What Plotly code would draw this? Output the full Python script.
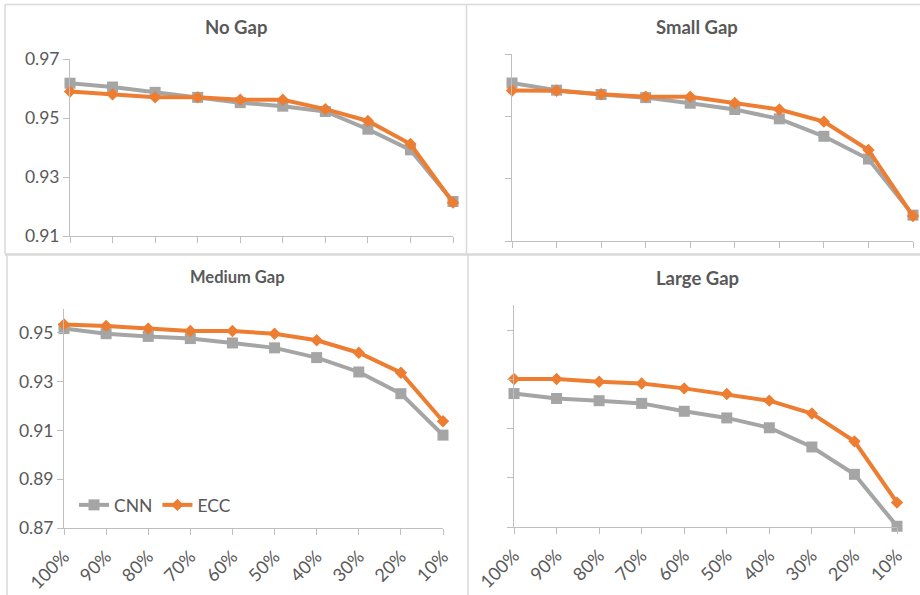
import plotly.graph_objects as go

W, H = 920, 595

categories = ["100%", "90%", "80%", "70%", "60%", "50%", "40%", "30%", "20%", "10%"]
panel_titles = ["No Gap", "Small Gap", "Medium Gap", "Large Gap"]

no_gap_cnn = [0.9618, 0.9605, 0.9587, 0.9570, 0.9552, 0.9540, 0.9522, 0.9462, 0.9392, 0.9217]
no_gap_ecc = [0.9590, 0.9580, 0.9570, 0.9570, 0.9562, 0.9562, 0.9530, 0.9490, 0.9412, 0.9213]

small_gap_cnn = [0.9607, 0.9584, 0.9570, 0.9560, 0.9542, 0.9522, 0.9492, 0.9436, 0.9363, 0.9183]
small_gap_ecc = [0.9583, 0.9582, 0.9571, 0.9563, 0.9563, 0.9543, 0.9522, 0.9483, 0.9392, 0.9180]

medium_gap_cnn = [0.9518, 0.9497, 0.9486, 0.9477, 0.9459, 0.9439, 0.9399, 0.9340, 0.9251, 0.9081]
medium_gap_ecc = [0.9535, 0.9529, 0.9518, 0.9508, 0.9508, 0.9497, 0.9470, 0.9419, 0.9337, 0.9138]

large_gap_cnn = [0.9242, 0.9222, 0.9213, 0.9202, 0.9170, 0.9143, 0.9103, 0.9025, 0.8914, 0.8703]
large_gap_ecc = [0.9301, 0.9301, 0.9290, 0.9283, 0.9263, 0.9240, 0.9213, 0.9161, 0.9048, 0.8799]

top_yticks = [0.91, 0.93, 0.95, 0.97]
bottom_yticks = [0.87, 0.89, 0.91, 0.93, 0.95]

series = [
    (no_gap_cnn, no_gap_ecc),
    (small_gap_cnn, small_gap_ecc),
    (medium_gap_cnn, medium_gap_ecc),
    (large_gap_cnn, large_gap_ecc),
]

GRAY = "#A5A5A5"
ORANGE = "#ED7D31"
TXT = "#595959"
AX = "#BFBFBF"
BORDER = "#D9D9D9"
FONT = "Lato"

panels = [
    dict(px=(70, 453, 59, 236), yr=[0.91, 0.97], yt=top_yticks, ylab=True, xlab=False,
         title_xy=(235.5, 27), tsize=18.5),
    dict(px=(512, 913, 54, 241), yr=[0.91, 0.97], yt=top_yticks, ylab=False, xlab=False,
         title_xy=(697, 27), tsize=18.5),
    dict(px=(64, 443, 308.6, 528), yr=[0.87, 0.96], yt=bottom_yticks, ylab=True, xlab=True,
         title_xy=(237, 277), tsize=16.5),
    dict(px=(514, 897, 305.4, 527), yr=[0.87, 0.96], yt=bottom_yticks, ylab=False, xlab=True,
         title_xy=(697, 278), tsize=18.5),
]

fig = go.Figure()
layout = {}
annotations = []
for i, (p, (cnn, ecc)) in enumerate(zip(panels, series)):
    n = "" if i == 0 else str(i + 1)
    xa, ya = "x" + n, "y" + n
    x0, x1, yt, yb = p["px"]
    show = (i == 2)
    fig.add_trace(go.Scatter(
        x=categories, y=cnn, name="CNN", mode="lines+markers",
        line=dict(color=GRAY, width=4),
        marker=dict(symbol="square", size=11, color=GRAY),
        xaxis=xa, yaxis=ya, cliponaxis=False, showlegend=show, legendrank=1))
    fig.add_trace(go.Scatter(
        x=categories, y=ecc, name="ECC", mode="lines+markers",
        line=dict(color=ORANGE, width=4),
        marker=dict(symbol="diamond", size=9.5, color=ORANGE),
        xaxis=xa, yaxis=ya, cliponaxis=False, showlegend=show, legendrank=2))
    layout["xaxis" + n] = dict(
        domain=[x0 / W, x1 / W], anchor=ya, type="category",
        categoryorder="array", categoryarray=categories,
        range=[0, len(categories) - 1], showgrid=False, zeroline=False,
        showline=True, linecolor=AX, linewidth=1, automargin=False,
        ticks="outside", ticklen=6, tickcolor=AX, tickwidth=1,
        showticklabels=p["xlab"], tickangle=-45, ticklabelstandoff=4,
        tickfont=dict(family=FONT, size=18, color=TXT))
    layout["yaxis" + n] = dict(
        domain=[1 - yb / H, 1 - yt / H], anchor=xa, range=p["yr"],
        tickvals=p["yt"], ticktext=["%.2f" % v for v in p["yt"]],
        showgrid=False, zeroline=False, automargin=False,
        showline=True, linecolor=AX, linewidth=1,
        ticks="outside", ticklen=6, tickcolor=AX, tickwidth=1,
        showticklabels=p["ylab"],
        tickfont=dict(family=FONT, size=17.5, color=TXT))
    tx, ty = p["title_xy"]
    annotations.append(dict(
        text="<b>%s</b>" % panel_titles[i], x=tx / W, y=1 - ty / H,
        xref="paper", yref="paper", xanchor="center", yanchor="middle",
        showarrow=False, font=dict(family=FONT, size=p["tsize"], color=TXT)))

shapes = []
def seg(xa_, ya_, xb_, yb_, w=1.5):
    shapes.append(dict(type="line", xref="paper", yref="paper",
                       x0=xa_ / W, y0=1 - ya_ / H, x1=xb_ / W, y1=1 - yb_ / H,
                       line=dict(color=BORDER, width=w)))

seg(5, 4.5, 920, 4.5)
seg(5, 4.5, 5, 254)
seg(7, 254, 7, 595)
seg(466.5, 4.5, 466.5, 254)
seg(468, 254, 468, 595)
seg(5, 254.5, 920, 254.5, 2.5)

fig.update_layout(
    width=W, height=H, margin=dict(l=0, r=0, t=0, b=0, autoexpand=False),
    paper_bgcolor="white", plot_bgcolor="white",
    font=dict(family=FONT, color=TXT),
    annotations=annotations, shapes=shapes,
    legend=dict(orientation="h", x=74 / W, y=1 - 505 / H, xanchor="left", yanchor="middle",
                bgcolor="rgba(0,0,0,0)", font=dict(family=FONT, size=17.5, color=TXT),
                itemwidth=30, tracegroupgap=0),
    **layout)

fig.write_html("out.html", config={"displayModeBar": False},
               post_script="document.body.style.margin='0';document.body.style.overflow='hidden';")
